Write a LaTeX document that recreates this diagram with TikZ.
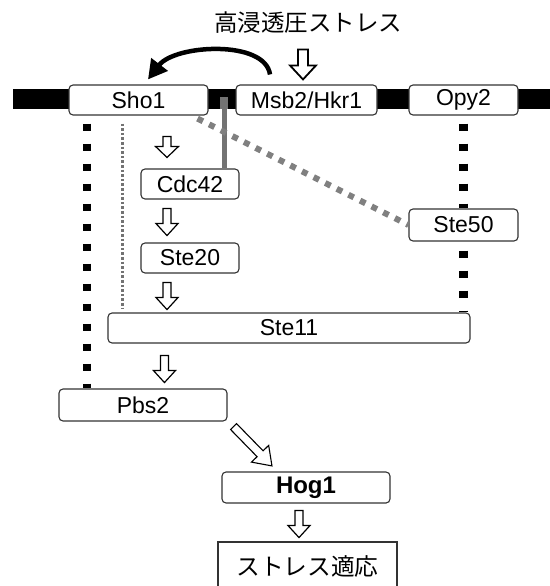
\documentclass[tikz,border=0pt]{standalone}
\usepackage{fontspec}
\setmainfont{Liberation Sans}
\newfontfamily\cjk{Noto Sans CJK JP}
\usetikzlibrary{arrows.meta,calc}
\begin{document}
\begin{tikzpicture}[x=1pt,y=-1pt,
  box/.style={draw=black!80, line width=1.1pt, rounded corners=4pt, fill=white, inner sep=0pt, font=\fontsize{23}{26}\selectfont},
  bdash/.style={draw=black, line width=8.5pt, dash pattern=on 7.5pt off 12.5pt},
  gdot/.style={draw=black!55, line width=3.2pt, dash pattern=on 2.6pt off 2pt},
  gdash/.style={draw=black!50, line width=6pt, dash pattern=on 6pt off 7pt},
  gline/.style={draw=black!55, line width=5pt},
  curvearr/.style={draw=black, line width=4.5pt, -{Triangle[length=19pt,width=20pt]}},
  pics/blockarr/.style n args={5}{code={
    \draw[fill=white, draw=black, line width=#5, line join=miter]
      (-#4,0) -- (-#4,#1-#2) -- (-#3,#1-#2) -- (0,#1) -- (#3,#1-#2) -- (#4,#1-#2) -- (#4,0) -- cycle;}},
]
\useasboundingbox (0,0) rectangle (549,586);

% membrane
\fill[black] (13,89) rectangle (560,109);

% title
\node[font=\cjk\fontsize{23.5}{28}\selectfont, inner sep=0pt] (osm) at (308,23) {高浸透圧ストレス};

% membrane proteins
\node[box, minimum width=139pt, minimum height=30pt] (sho1) at (138.5,100) {Sho1};
\node[box, minimum width=141pt, minimum height=30pt] (msb) at (306.5,100) {Msb2/Hkr1};
\node[box, minimum width=109pt, minimum height=30pt] (opy2) at (463.5,100) {Opy2};

% cytoplasmic proteins
\node[box, minimum width=98pt, minimum height=30pt] (cdc42) at (190,184) {Cdc42};
\node[box, minimum width=98pt, minimum height=30pt] (ste20) at (190,258) {Ste20};
\node[box, minimum width=109pt, minimum height=32pt] (ste50) at (463.5,225) {Ste50};

% grey connections
\coordinate (msbroot) at (224,103);
\fill[black!55] (220,97) rectangle (228,109);
\draw[gline] (msbroot) -- (msbroot |- cdc42.north);
\draw[gdash] ([xshift=-11pt,yshift=-3pt]sho1.south east) -- (ste50.west);

\node[box, minimum width=362pt, minimum height=30pt] (ste11) at (289,328) {Ste11};
\node[box, minimum width=168pt, minimum height=32pt] (pbs2) at (143,405) {Pbs2};
\node[box, minimum width=168pt, minimum height=31pt, font=\fontsize{24}{27}\selectfont\bfseries] (hog1) at (306,487.5) {Hog1};
\node[draw=black!80, line width=1.3pt, fill=white, inner sep=0pt, minimum width=179pt, minimum height=48pt, font=\cjk\fontsize{23.7}{28}\selectfont] (adapt) at (307.5,566) {ストレス適応};

% dashed scaffolding lines
\draw[bdash] ([xshift=18.5pt,yshift=-8pt]sho1.south west) -- ([xshift=28.5pt]pbs2.north west);
\draw[bdash] ([yshift=-8pt]opy2.south) -- (ste50.north);
\draw[bdash] ([yshift=-9pt]ste50.south) -- (ste11.north -| ste50.south);
\draw[gdot] ([xshift=54pt,yshift=-8pt]sho1.south west) -- ([xshift=15pt,yshift=3pt]ste11.north west);

% curved arrow Msb2 -> Sho1
\coordinate (cs) at ($(msb.north)+(-36.5,-10)$);
\coordinate (ce) at ($(sho1.north)+(9.5,-5)$);
\draw[curvearr] (cs) .. controls +(-5,-35) and +(27,-35) .. (ce);

% open arrows
\pic at ($(msb.north)+(-3.5,-35)$) {blockarr={30}{14}{13}{5}{1.8pt}};
\pic at ($(cdc42.north)+(-23,-32)$) {blockarr={21}{11}{11.5}{4}{1.2pt}};
\pic at ($(cdc42.south)+(-23,9)$) {blockarr={27}{12}{11}{4}{1.2pt}};
\pic at ($(ste20.south)+(-23,9)$) {blockarr={27}{12}{11}{4}{1.2pt}};
\pic at ($(ste11.south west)+(57,12)$) {blockarr={27}{12}{11}{4}{1.2pt}};
\pic[rotate=44.3] at ($(pbs2.south east)+(6,5)$) {blockarr={55}{17}{12}{4.2}{1.1pt}};
\pic at ($(hog1.south)+(-7,7)$) {blockarr={27}{12}{11}{4}{1.2pt}};
\end{tikzpicture}
\end{document}
